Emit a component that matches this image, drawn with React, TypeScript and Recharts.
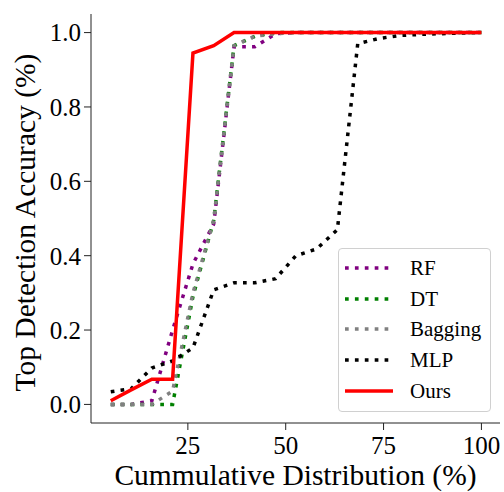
import React from "react";
import { LineChart, Line, XAxis, YAxis } from "recharts";

// cumulative distribution (%) sample points
const cumDist = [
  5.3, 10.5, 15.8, 21.1, 26.3, 31.6, 36.8, 42.1, 47.4, 52.6, 57.9, 63.2, 68.4,
  73.7, 78.9, 84.2, 89.5, 94.7, 100,
];

const rf = [
  0, 0, 0.01, 0.2, 0.378, 0.485, 0.962, 0.962, 0.997, 1, 1, 1, 1, 1, 1, 1, 1,
  1, 1,
];
const dt = [
  0, 0, 0, 0, 0.29, 0.495, 0.965, 0.99, 1, 1, 1, 1, 1, 1, 1, 1, 1, 1, 1,
];
const bagging = [
  0, 0, 0, 0.036, 0.3, 0.495, 0.965, 0.99, 0.997, 1, 1, 1, 1, 1, 1, 1, 1, 1,
  1,
];
const mlp = [
  0.034, 0.042, 0.098, 0.117, 0.152, 0.308, 0.327, 0.327, 0.338, 0.4, 0.418,
  0.47, 0.97, 0.984, 0.992, 0.995, 0.997, 0.999, 1,
];
const ours = [
  0.01, 0.039, 0.068, 0.068, 0.945, 0.965, 1, 1, 1, 1, 1, 1, 1, 1, 1, 1, 1, 1,
  1,
];

const xTicks = [25, 50, 75, 100];
const yTicks = [0, 0.2, 0.4, 0.6, 0.8, 1.0];

const series = [
  { key: "rf", name: "RF", color: "#800080", dotted: true },
  { key: "dt", name: "DT", color: "#008000", dotted: true },
  { key: "bagging", name: "Bagging", color: "#808080", dotted: true },
  { key: "mlp", name: "MLP", color: "#000000", dotted: true },
  { key: "ours", name: "Ours", color: "#ff0000", dotted: false },
];

const data = cumDist.map((x, i) => ({
  x,
  rf: rf[i],
  dt: dt[i],
  bagging: bagging[i],
  mlp: mlp[i],
  ours: ours[i],
}));

const FONT = "'Liberation Serif', 'Times New Roman', serif";
const DOTS = "3.7 6.2";
const AXIS = "#222";

function LegendBox() {
  return (
    <div
      style={{
        position: "absolute",
        left: 338,
        top: 248,
        width: 153,
        height: 164,
        boxSizing: "border-box",
        border: "1px solid #d0d0d0",
        borderRadius: 4,
        background: "rgba(255,255,255,0.85)",
        fontFamily: FONT,
        fontSize: 21,
        color: "#000",
      }}
    >
      {series.map((s, i) => (
        <div
          key={s.key}
          style={{
            position: "absolute",
            left: 6,
            top: 19 + i * 30.7 - 14,
            height: 28,
            display: "flex",
            alignItems: "center",
          }}
        >
          <svg width={48} height={8} style={{ display: "block" }}>
            <line
              x1={0}
              y1={4}
              x2={48}
              y2={4}
              stroke={s.color}
              strokeWidth={3.5}
              strokeDasharray={s.dotted ? DOTS : undefined}
            />
          </svg>
          <span style={{ marginLeft: 17, lineHeight: "28px" }}>{s.name}</span>
        </div>
      ))}
    </div>
  );
}

export default function App() {
  return (
    <div
      style={{
        position: "absolute",
        left: 0,
        top: 0,
        width: 504,
        height: 492,
        background: "#fff",
      }}
    >
      <LineChart
        width={504}
        height={492}
        data={data}
        margin={{ top: 14, right: 4, bottom: 0, left: 0 }}
      >
        <XAxis
          dataKey="x"
          type="number"
          domain={[0.25, 104.75]}
          ticks={xTicks}
          allowDataOverflow
          height={69}
          tickSize={7}
          tickMargin={6}
          stroke={AXIS}
          tick={{ fill: "#000", fontSize: 25, fontFamily: FONT }}
          label={{
            value: "Cummulative Distribution (%)",
            position: "insideBottom",
            offset: 7,
            style: { fill: "#000", fontSize: 29.5, fontFamily: FONT },
          }}
        />
        <XAxis
          xAxisId="top"
          dataKey="x"
          type="number"
          domain={[0.25, 104.75]}
          orientation="top"
          height={0}
          tick={false}
          tickLine={false}
          stroke={AXIS}
        />
        <YAxis
          type="number"
          domain={[-0.05, 1.05]}
          ticks={yTicks}
          allowDataOverflow
          width={91}
          tickSize={7}
          tickMargin={3}
          stroke={AXIS}
          tickFormatter={(v: number) => v.toFixed(1)}
          tick={{ fill: "#000", fontSize: 25, fontFamily: FONT }}
          label={{
            value: "Top Detection Accuracy  (%)",
            angle: -90,
            position: "insideLeft",
            offset: 25,
            dy: 4,
            style: {
              fill: "#000",
              fontSize: 29.5,
              fontFamily: FONT,
              textAnchor: "middle",
            },
          }}
        />
        <YAxis
          yAxisId="right"
          orientation="right"
          domain={[-0.05, 1.05]}
          width={0}
          tick={false}
          tickLine={false}
          stroke={AXIS}
        />
        {series.map((s) => (
          <Line
            key={s.key}
            type="linear"
            dataKey={s.key}
            name={s.name}
            stroke={s.color}
            strokeWidth={3.5}
            strokeDasharray={s.dotted ? DOTS : undefined}
            dot={false}
            activeDot={false}
            isAnimationActive={false}
          />
        ))}
      </LineChart>
      <LegendBox />
    </div>
  );
}
